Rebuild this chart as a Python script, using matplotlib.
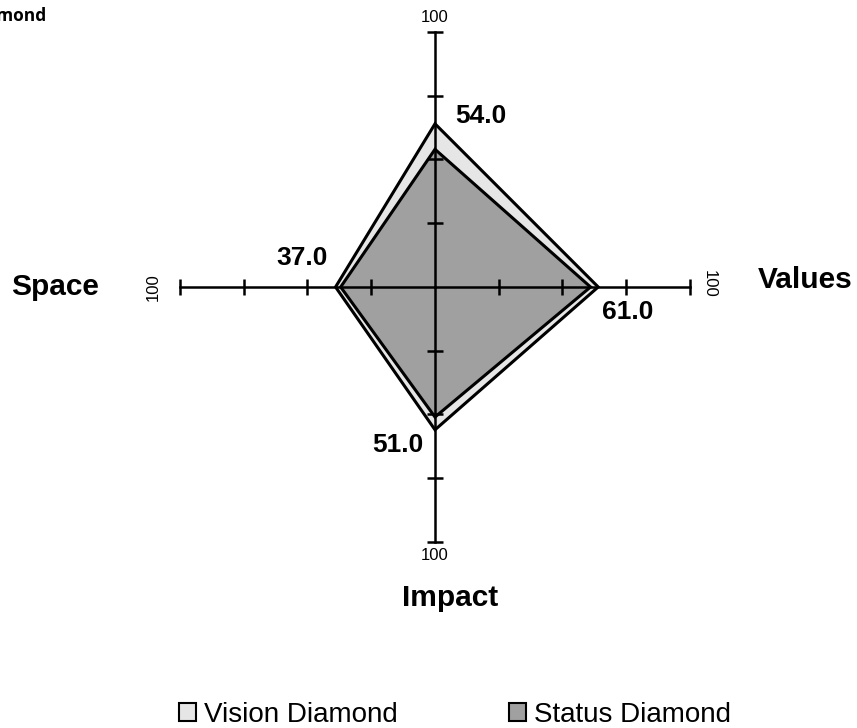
import numpy as np
import matplotlib
matplotlib.use("Agg")
import matplotlib.pyplot as plt
from matplotlib.patches import Patch

# axes of the diamond: top, right, bottom, left
categories = ["", "Values", "Impact", "Space"]
directions = [(0, 1), (1, 0), (0, -1), (-1, 0)]
vision_values = [64, 64, 56, 39]
status_values = [54, 61, 51, 37]
tick_values = [25, 50, 75, 100]
axis_max = 100

plt.rcParams['font.family'] = ['Liberation Sans', 'DejaVu Sans']

W, H, DPI = 857, 728, 100
px_per_unit = 2.55
cx, cy = 435, 287

fig = plt.figure(figsize=(W / DPI, H / DPI), dpi=DPI)
ax = fig.add_axes([0, 0, 1, 1])
ax.set_xlim(-cx / px_per_unit, (W - cx) / px_per_unit)
ax.set_ylim(-(H - cy) / px_per_unit, cy / px_per_unit)
ax.axis("off")


def polygon(values):
    xs = [v * d[0] for v, d in zip(values, directions)]
    ys = [v * d[1] for v, d in zip(values, directions)]
    return xs, ys


vx, vy = polygon(vision_values)
sx, sy = polygon(status_values)
ax.fill(vx, vy, facecolor="#e6e6e6", edgecolor="black", linewidth=2.2, zorder=1)
ax.fill(sx, sy, facecolor="#a0a0a0", edgecolor="black", linewidth=2.2, zorder=2)

# axis lines with ticks
for dx, dy in directions:
    ax.plot([0, dx * axis_max], [0, dy * axis_max], color="black", lw=1.8, zorder=3)
    tx = [dx * t for t in tick_values]
    ty = [dy * t for t in tick_values]
    ax.plot(tx, ty, ls="none", marker="|" if dy == 0 else "_",
            markersize=12, mew=1.8, color="black", zorder=3)

# "100" labels at axis ends
ax.annotate("100", (0, axis_max), xytext=(0, 5), textcoords="offset points",
            ha="center", va="bottom", fontsize=12)
ax.annotate("100", (0, -axis_max), xytext=(0, -4), textcoords="offset points",
            ha="center", va="top", fontsize=12)
ax.annotate("100", (-axis_max, 0), xytext=(-19, 0), textcoords="offset points",
            ha="center", va="center", rotation=90, fontsize=12)
ax.annotate("100", (axis_max, 0), xytext=(14, 2), textcoords="offset points",
            ha="center", va="center", rotation=270, fontsize=12)

# category names
ax.annotate(categories[1], (axis_max, 0), xytext=(83, 5), textcoords="offset points",
            ha="center", va="center", fontsize=21.5, fontweight="bold")
ax.annotate(categories[2], (0, -axis_max), xytext=(11, -40), textcoords="offset points",
            ha="center", va="center", fontsize=21.5, fontweight="bold")
ax.annotate(categories[3], (-axis_max, 0), xytext=(-90, 0), textcoords="offset points",
            ha="center", va="center", fontsize=21.5, fontweight="bold")

# value labels near status vertices
offsets = [(33, 24), (27, -18), (-27, -20), (-28, 21)]
for (x, y), val, off in zip(zip(sx, sy), status_values, offsets):
    ax.annotate(f"{val:.1f}", (x, y), xytext=off, textcoords="offset points",
                ha="center", va="center", fontsize=19, fontweight="bold")

fig.text(46 / W, 1 - 21 / H, "Status Diamond", ha="right", va="baseline",
         fontsize=12.5, fontweight="bold", family=["Open Sans", "DejaVu Sans"])

handles = [Patch(facecolor="#e6e6e6", edgecolor="black", lw=1.5, label="Vision Diamond"),
           Patch(facecolor="#a0a0a0", edgecolor="black", lw=1.5, label="Status Diamond")]
fig.legend(handles=handles, loc="center", bbox_to_anchor=(455 / W, 1 - 715 / H), ncol=2,
           frameon=False, fontsize=20, handlelength=0.6, handleheight=0.6,
           handletextpad=0.3, columnspacing=4.0, borderpad=0.0)

fig.savefig("out.png", dpi=DPI)
